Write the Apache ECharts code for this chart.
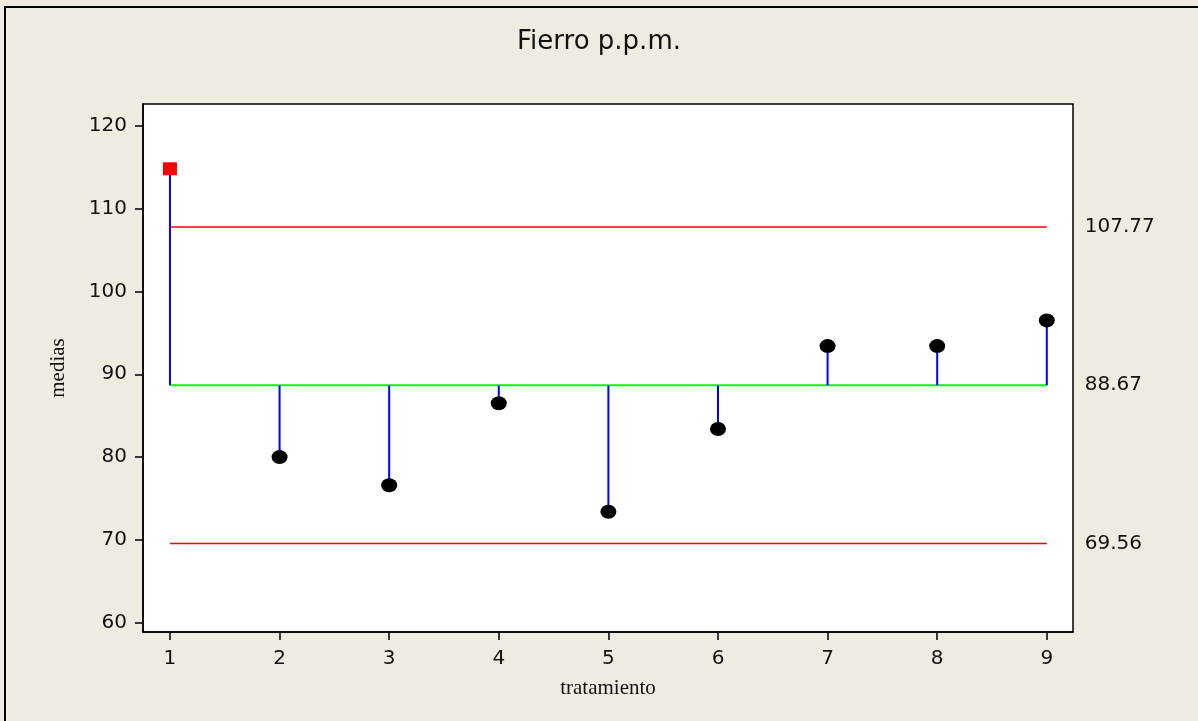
<!DOCTYPE html>
<html>
<head>
<meta charset="utf-8">
<script src="https://cdn.jsdelivr.net/npm/echarts@6/dist/echarts.min.js"></script>
<style>
  html, body { margin: 0; padding: 0; background: #EFEBE1; }
  #chart { width: 1198px; height: 721px; }
</style>
</head>
<body>
<div id="chart"></div>
<script>
  // tratamientos y medias
  var tratamientos = [1, 2, 3, 4, 5, 6, 7, 8, 9];
  var medias = [114.8, 80.0, 76.6, 86.5, 73.4, 83.4, 93.4, 93.4, 96.5];
  // limites
  var limSup = 107.77;
  var centro = 88.67;
  var limInf = 69.56;
  var yTicks = [60, 70, 80, 90, 100, 110, 120];

  var myChart = echarts.init(document.getElementById('chart'));

  var puntos = tratamientos.map(function (t, i) {
    var fuera = medias[i] > limSup || medias[i] < limInf;
    return {
      value: [t, medias[i]],
      symbol: fuera ? 'rect' : 'circle',
      symbolSize: fuera ? [14, 13] : [16, 14],
      itemStyle: { color: fuera ? '#FF0000' : '#000000', opacity: 1 }
    };
  });

  function limite(nombre, valor, color, ancho) {
    return {
      name: nombre,
      type: 'line',
      symbol: 'none',
      silent: true,
      lineStyle: { color: color, width: ancho },
      data: [[tratamientos[0], valor], [tratamientos[tratamientos.length - 1], valor]],
      endLabel: {
        show: true,
        distance: 38,
        color: '#111',
        fontFamily: 'DejaVu Sans',
        fontSize: 20,
        formatter: function () { return valor.toFixed(2); }
      },
      z: 2
    };
  }

  var option = {
    backgroundColor: '#EFEBE1',
    animation: false,
    title: {
      text: 'Fierro p.p.m.',
      left: 'center',
      top: 24,
      textStyle: { fontFamily: 'DejaVu Sans', fontSize: 26, fontWeight: 'normal', color: '#111' }
    },
    graphic: [{
      type: 'rect',
      shape: { x: 5, y: 7, width: 1300, height: 800 },
      style: { fill: null, stroke: '#000', lineWidth: 2 },
      silent: true
    }],
    grid: {
      left: 143,
      top: 104,
      right: 125,
      bottom: 89,
      show: true,
      backgroundColor: '#fff',
      borderColor: '#000',
      borderWidth: 1.5
    },
    xAxis: {
      type: 'value',
      min: 0.754,
      max: 9.239,
      name: 'tratamiento',
      nameLocation: 'middle',
      nameGap: 46,
      nameTextStyle: { fontFamily: 'Liberation Serif', fontSize: 21, color: '#111' },
      axisLine: { show: true, lineStyle: { color: '#000', width: 1.5 } },
      axisTick: { show: true, length: 8, inside: false, customValues: tratamientos, lineStyle: { color: '#000', width: 1.5 } },
      axisLabel: { customValues: tratamientos, margin: 17, color: '#111', fontFamily: 'DejaVu Sans', fontSize: 20 },
      splitLine: { show: false }
    },
    yAxis: {
      type: 'value',
      min: 58.89,
      max: 122.62,
      name: 'medias',
      nameLocation: 'middle',
      nameGap: 74,
      nameRotate: 90,
      nameTextStyle: { fontFamily: 'Liberation Serif', fontSize: 21, color: '#111' },
      axisLine: { show: true, lineStyle: { color: '#000', width: 1.5 } },
      axisTick: { show: true, length: 8, customValues: yTicks, lineStyle: { color: '#000', width: 1.5 } },
      axisLabel: { customValues: yTicks, margin: 16, color: '#111', fontFamily: 'DejaVu Sans', fontSize: 20 },
      splitLine: { show: false }
    },
    series: [
      limite('LCS', limSup, '#FF0000', 1.5),
      limite('LC', centro, '#00FF00', 2),
      limite('LCI', limInf, '#FF0000', 1.5),
      {
        name: 'tallos',
        type: 'custom',
        silent: true,
        data: tratamientos.map(function (t, i) { return [t, medias[i]]; }),
        renderItem: function (params, api) {
          var a = api.coord([api.value(0), centro]);
          var b = api.coord([api.value(0), api.value(1)]);
          return {
            type: 'line',
            shape: { x1: a[0], y1: a[1], x2: b[0], y2: b[1] },
            style: { stroke: '#0000FF', lineWidth: 2 }
          };
        },
        z: 3
      },
      {
        name: 'medias',
        type: 'scatter',
        data: puntos,
        z: 4
      }
    ]
  };

  if (option && typeof option === "object") {
    myChart.setOption(option, true);
  }
</script>
</body>
</html>
